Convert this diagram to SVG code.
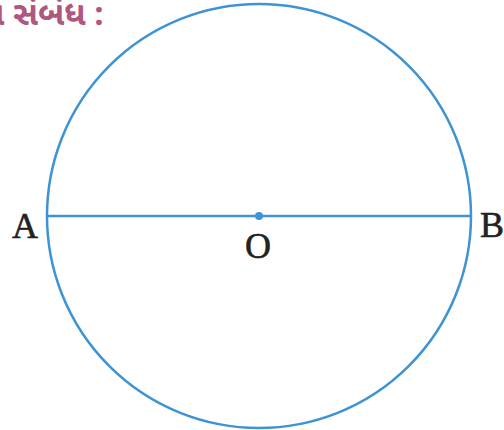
<svg xmlns="http://www.w3.org/2000/svg" width="504" height="430" viewBox="0 0 504 430">
<style>
.shape{fill:none;stroke:#3d93d3;stroke-width:2.5}
.lbl{font-family:"Liberation Serif","DejaVu Serif",serif;font-size:36px;fill:#222;stroke:#222;stroke-width:0.6}
.hd{font-family:"Noto Sans Gujarati","Noto Sans","DejaVu Sans",sans-serif;font-size:33px;font-weight:bold;fill:#b0577f}
</style>
<rect width="504" height="430" fill="#fff"/>
<text class="hd" x="-22" y="25">ા સંબંધ :</text>
<g id="circle">
<circle class="shape" cx="259" cy="216" r="212"/>
</g>
<g id="connectors">
<line class="shape" x1="47" y1="216" x2="471" y2="216"/>
</g>
<g id="O">
<circle cx="259" cy="216" r="4" fill="#3d93d3"/>
<text class="lbl" x="258" y="258" text-anchor="middle">O</text>
</g>
<g id="A"><text class="lbl" x="25" y="238" text-anchor="middle">A</text></g>
<g id="B"><text class="lbl" x="492" y="237" text-anchor="middle">B</text></g>
</svg>
